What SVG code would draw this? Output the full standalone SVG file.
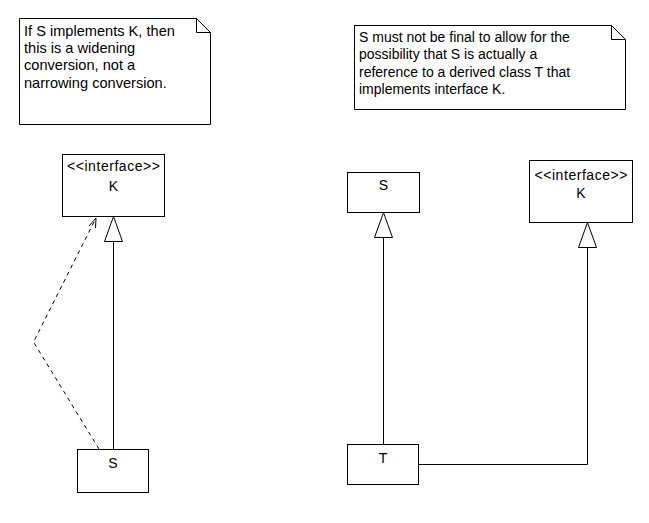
<svg xmlns="http://www.w3.org/2000/svg" width="649" height="523" viewBox="0 0 649 523">
<defs>
<style>
text{font-family:"Liberation Sans",Arial,sans-serif;font-size:14px;fill:#000}
.n1{font-size:14.6px}
.c{text-anchor:middle}
.box{fill:#fff;stroke:#000;stroke-width:1}
.ln{fill:none;stroke:#000;stroke-width:1}
.dash{fill:none;stroke:#000;stroke-width:1;stroke-dasharray:4,4}
.tri{fill:#fff;stroke:#000;stroke-width:1}
</style>
</defs>
<rect width="649" height="523" fill="#fff"/>
<g id="note1">
<path class="box" d="M19.5,18.5 H196.5 L210.5,32.5 V124.5 H19.5 Z"/>
<path class="ln" d="M196.5,18.5 V32.5 H210.5"/>
<text class="n1" x="24" y="36">If S implements K, then</text>
<text class="n1" x="24" y="53">this is a widening</text>
<text class="n1" x="24" y="70">conversion, not a</text>
<text class="n1" x="24" y="88">narrowing conversion.</text>
</g>
<g id="note2">
<path class="box" d="M354.5,25.5 H611.5 L625.5,39.5 V109.5 H354.5 Z"/>
<path class="ln" d="M611.5,25.5 V39.5 H625.5"/>
<text x="359" y="42">S must not be final to allow for the</text>
<text x="359" y="59">possibility that S is actually a</text>
<text x="359" y="77">reference to a derived class T that</text>
<text x="359" y="94">implements interface K.</text>
</g>
<g id="connectors">
<path class="ln" d="M113.5,449 V241"/>
<path class="tri" d="M113.5,216.5 L104.5,241.5 H122.5 Z"/>
<path class="dash" d="M99,449 L33.5,342 L96,218"/>
<path class="ln" d="M96,218 L89,226 M96,218 L95.5,228"/>
<path class="ln" d="M383.5,444 V237"/>
<path class="tri" d="M383.5,212.5 L374.5,237.5 H392.5 Z"/>
<path class="ln" d="M418,464.5 H587.5 V247"/>
<path class="tri" d="M587.5,222.5 L578.5,247.5 H596.5 Z"/>
</g>
<g id="K1">
<rect class="box" x="62.5" y="154.5" width="102" height="62"/>
<text class="c" x="113.5" y="171" textLength="93" lengthAdjust="spacing">&lt;&lt;interface&gt;&gt;</text>
<text class="c" x="113.5" y="191">K</text>
</g>
<g id="S1">
<rect class="box" x="77.5" y="449.5" width="71" height="43"/>
<text class="c" x="113" y="468">S</text>
</g>
<g id="S2">
<rect class="box" x="347.5" y="172.5" width="72" height="40"/>
<text class="c" x="383.5" y="190">S</text>
</g>
<g id="K2">
<rect class="box" x="529.5" y="160.5" width="103" height="62"/>
<text class="c" x="581" y="180" textLength="93" lengthAdjust="spacing">&lt;&lt;interface&gt;&gt;</text>
<text class="c" x="581" y="198">K</text>
</g>
<g id="T">
<rect class="box" x="347.5" y="444.5" width="71" height="40"/>
<text class="c" x="383" y="463">T</text>
</g>
</svg>
